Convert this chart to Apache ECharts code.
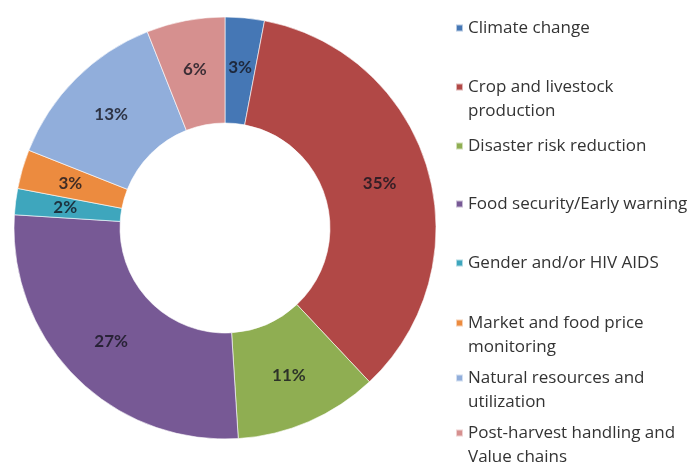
<!DOCTYPE html>
<html>
<head>
<meta charset="utf-8">
<script src="https://cdn.jsdelivr.net/npm/echarts@6/dist/echarts.min.js"></script>
<style>
  html, body { margin: 0; padding: 0; background: #ffffff; }
  #chart { width: 691px; height: 469px; }
</style>
</head>
<body>
<div id="chart"></div>
<script>
// Share of activities by thematic area (%)
const categories = [
  'Climate change',
  'Crop and livestock\nproduction',
  'Disaster risk reduction',
  'Food security/Early warning',
  'Gender and/or HIV AIDS',
  'Market and food price\nmonitoring',
  'Natural resources and\nutilization',
  'Post-harvest handling and\nValue chains'
];
const shares = [3, 35, 11, 27, 2, 3, 13, 6];
const colors = ['#4577b5', '#b14846', '#8fae52', '#775995', '#3ea6bd', '#ec8b3f', '#91aedb', '#d6908f'];

// vertical centre of each legend entry's first line
const legendRows = [28, 87, 146, 204, 263, 323, 378, 433];
const LINE = 24;

const legends = categories.map((name, i) => {
  const lines = name.split('\n').length;
  // multi-line names get a blank first line so the key sits beside the first text line
  const textHeight = (lines > 1 ? 2 * lines - 1 : 1) * LINE;
  return {
    orient: 'vertical',
    left: 455,
    top: legendRows[i] - textHeight / 2,
    padding: 0,
    icon: 'rect',
    itemWidth: 7,
    itemHeight: 7,
    selectedMode: false,
    data: [name],
    formatter: n => (n.indexOf('\n') >= 0 ? '\n' + n : n),
    textStyle: { fontFamily: '"Open Sans", sans-serif', fontSize: 17, color: '#333333', lineHeight: LINE }
  };
});

const chart = echarts.init(document.getElementById('chart'), null, { renderer: 'canvas' });
chart.setOption({
  animation: false,
  color: colors,
  legend: legends,
  series: [{
    type: 'pie',
    center: [225, 228],
    radius: [105, 211],
    startAngle: 90,
    clockwise: true,
    avoidLabelOverlap: false,
    itemStyle: { borderColor: 'rgba(255,255,255,0.6)', borderWidth: 1 },
    label: {
      show: true,
      position: 'inside',
      formatter: p => p.value + '%',
      fontFamily: 'Lato, sans-serif',
      fontSize: 17,
      fontWeight: 'bold',
      color: 'rgba(20,20,30,0.8)'
    },
    labelLine: { show: false },
    emphasis: { disabled: true },
    data: categories.map((name, i) => ({ name, value: shares[i] }))
  }]
});
</script>
</body>
</html>
